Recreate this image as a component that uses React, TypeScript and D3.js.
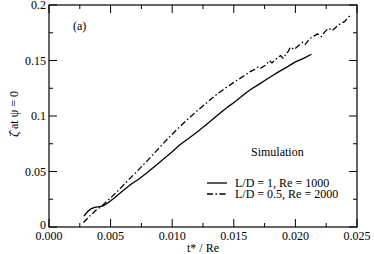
import React, { useEffect, useRef } from "react";
import * as d3 from "d3";

// L/D = 1, Re = 1000 (solid)
const solidT = [0.00284, 0.0031, 0.0034, 0.0037, 0.0041, 0.0044, 0.0048, 0.0053, 0.0059, 0.0066, 0.0073, 0.0079, 0.0086, 0.0093, 0.01, 0.0106, 0.0113, 0.0121, 0.0129, 0.0137, 0.0145, 0.0152, 0.0159, 0.0163, 0.017, 0.0178, 0.0186, 0.0193, 0.02, 0.0207, 0.0213];
const solidV = [0.0099, 0.0135, 0.0163, 0.0177, 0.0183, 0.019, 0.0218, 0.0262, 0.0318, 0.038, 0.0432, 0.0484, 0.0548, 0.0612, 0.0678, 0.0739, 0.0795, 0.0862, 0.0935, 0.1008, 0.108, 0.1138, 0.12, 0.1234, 0.1283, 0.134, 0.1395, 0.144, 0.1488, 0.1522, 0.1556];

// L/D = 0.5, Re = 2000 (dash-dot)
const dashT = [0.0028, 0.0033, 0.0038, 0.0044, 0.005, 0.0057, 0.0064, 0.0072, 0.008, 0.0088, 0.0095, 0.0103, 0.0111, 0.0119, 0.0127, 0.0135, 0.0143, 0.0151, 0.0158, 0.0163, 0.0167, 0.017, 0.0172, 0.0176, 0.0179, 0.0181, 0.0185, 0.0188, 0.019, 0.0194, 0.0196, 0.0199, 0.0203, 0.0206, 0.0208, 0.0212, 0.0215, 0.0218, 0.0221, 0.0224, 0.0227, 0.023, 0.0234, 0.0237, 0.024, 0.0242, 0.0244];
const dashV = [0.004, 0.0098, 0.015, 0.02, 0.0262, 0.0338, 0.0418, 0.0508, 0.06, 0.0695, 0.078, 0.087, 0.0955, 0.1035, 0.111, 0.1185, 0.125, 0.131, 0.136, 0.1398, 0.142, 0.1445, 0.1432, 0.146, 0.15, 0.1478, 0.152, 0.1545, 0.152, 0.158, 0.162, 0.16, 0.164, 0.1665, 0.1645, 0.17, 0.172, 0.174, 0.1715, 0.176, 0.179, 0.177, 0.181, 0.1835, 0.185, 0.188, 0.19];

const xTicks = [0, 0.005, 0.01, 0.015, 0.02, 0.025];
const xMinor = [0.0025, 0.0075, 0.0125, 0.0175, 0.0225];
const yTicks = [0, 0.05, 0.1, 0.15, 0.2];
const yTickLabels = ["0", "0.05", "0.1", "0.15", "0.2"];
const yMinor = [0.025, 0.075, 0.125, 0.175];

const legendLabels = ["L/D = 1, Re = 1000", "L/D = 0.5, Re = 2000"];
const DASHDOT = "6,2.5,1.5,2.5";

function App() {
  const ref = useRef<any>();

  useEffect(() => {
    document.body.style.margin = "0";
    const W = 374, H = 254;
    const left = 49, right = 357, top = 5, bottom = 227;
    const font = "Liberation Serif, Tinos, Times New Roman, Times, Nimbus Roman, DejaVu Serif, serif";

    const svg = d3.select(ref.current).attr("width", W).attr("height", H)
      .style("font-family", font);
    svg.selectAll("*").remove();
    svg.append("rect").attr("width", W).attr("height", H).attr("fill", "#fff");

    const x = d3.scaleLinear().domain([0, 0.025]).range([left, right]);
    const y = d3.scaleLinear().domain([0, 0.2]).range([bottom, top]);

    const g = svg.append("g").attr("stroke", "#000").attr("stroke-width", 1);

    // ticks on all four sides, pointing in
    xTicks.forEach((t) => {
      g.append("line").attr("x1", x(t)).attr("x2", x(t)).attr("y1", bottom).attr("y2", bottom - 8);
      g.append("line").attr("x1", x(t)).attr("x2", x(t)).attr("y1", top).attr("y2", top + 8);
    });
    xMinor.forEach((t) => {
      g.append("line").attr("x1", x(t)).attr("x2", x(t)).attr("y1", bottom).attr("y2", bottom - 4);
      g.append("line").attr("x1", x(t)).attr("x2", x(t)).attr("y1", top).attr("y2", top + 4);
    });
    yTicks.forEach((v) => {
      g.append("line").attr("x1", left).attr("x2", left + 8).attr("y1", y(v)).attr("y2", y(v));
      g.append("line").attr("x1", right).attr("x2", right - 8).attr("y1", y(v)).attr("y2", y(v));
    });
    yMinor.forEach((v) => {
      g.append("line").attr("x1", left).attr("x2", left + 4).attr("y1", y(v)).attr("y2", y(v));
      g.append("line").attr("x1", right).attr("x2", right - 4).attr("y1", y(v)).attr("y2", y(v));
    });

    svg.append("rect")
      .attr("x", left).attr("y", top)
      .attr("width", right - left).attr("height", bottom - top)
      .attr("fill", "none").attr("stroke", "#000").attr("stroke-width", 1.2);

    // tick labels
    xTicks.forEach((t) => {
      svg.append("text").attr("x", x(t)).attr("y", 240)
        .attr("text-anchor", "middle").attr("font-size", 12)
        .text(d3.format(".3f")(t));
    });
    yTicks.forEach((v, i) => {
      svg.append("text").attr("x", 46).attr("y", y(v) + 4 - (i === 0 ? 2 : 0))
        .attr("text-anchor", "end").attr("font-size", 12)
        .text(yTickLabels[i]);
    });

    // axis titles
    svg.append("text").attr("x", (left + right) / 2).attr("y", 252)
      .attr("text-anchor", "middle").attr("font-size", 12)
      .text("t* / Re");
    svg.append("text")
      .attr("transform", "translate(18,114) rotate(-90)")
      .attr("text-anchor", "middle").attr("font-size", 12)
      .text("\u03B6\u0302 at \u03C8 = 0");

    // curves
    const solid = solidT.map((t, i) => [x(t), y(solidV[i])] as [number, number]);
    const dash = dashT.map((t, i) => [x(t), y(dashV[i])] as [number, number]);
    const path = d3.line();

    svg.append("path").attr("d", path(solid))
      .attr("fill", "none").attr("stroke", "#000").attr("stroke-width", 1.3);
    svg.append("path").attr("d", path(dash))
      .attr("fill", "none").attr("stroke", "#000").attr("stroke-width", 1.3)
      .attr("stroke-dasharray", DASHDOT);

    // annotations
    svg.append("text").attr("x", 73).attr("y", 30)
      .attr("font-size", 12).text("(a)");
    svg.append("text").attr("x", 251).attr("y", 156)
      .attr("font-size", 12).text("Simulation");

    // legend
    legendLabels.forEach((lab, i) => {
      const ly = 183 + i * 11;
      svg.append("line").attr("x1", 207).attr("x2", 227).attr("y1", ly).attr("y2", ly)
        .attr("stroke", "#000").attr("stroke-width", 1.3)
        .attr("stroke-dasharray", i === 0 ? null : DASHDOT);
      svg.append("text").attr("x", 235).attr("y", ly + 4)
        .attr("font-size", 12).text(lab);
    });
  }, []);

  return (
    <div>
      <svg ref={ref}></svg>
    </div>
  );
}

export default App;
